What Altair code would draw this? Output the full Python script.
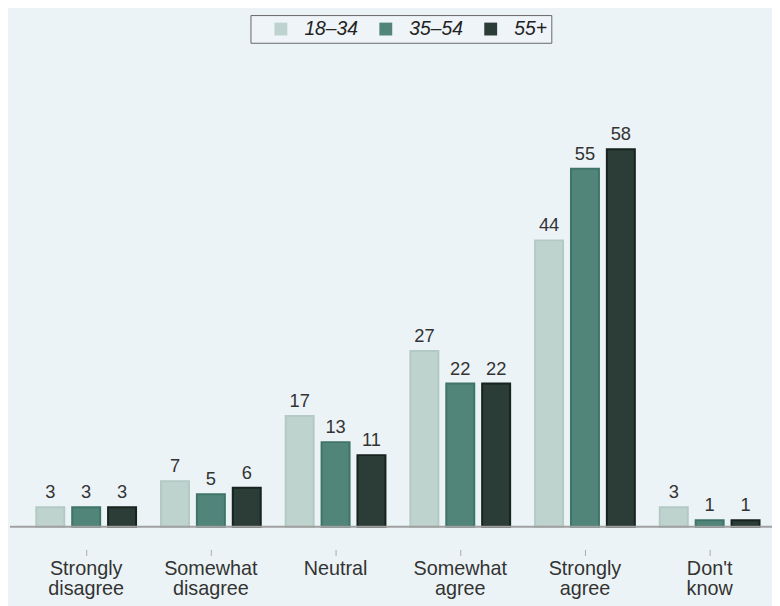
import altair as alt
import pandas as pd

categories = ["Strongly|disagree", "Somewhat|disagree", "Neutral", "Somewhat|agree", "Strongly|agree", "Don't|know"]
groups = ["18–34", "35–54", "55+"]
v_18_34 = [3, 7, 17, 27, 44, 3]
v_35_54 = [3, 5, 13, 22, 55, 1]
v_55p = [3, 6, 11, 22, 58, 1]
fills = ["#bfd3ce", "#52857a", "#2c3c36"]
strokes = ["#b3c9c3", "#3f7468", "#16231e"]

rows = []
for g, vals in zip(groups, [v_18_34, v_35_54, v_55p]):
    for c, v in zip(categories, vals):
        rows.append({"cat": c, "grp": g, "val": v})
df = pd.DataFrame(rows)

FONT = "Liberation Sans"
W, H = 756, 434

x = alt.X("cat:N", sort=categories, title=None,
          scale=alt.Scale(paddingInner=0.2, paddingOuter=0.1),
          axis=alt.Axis(labelExpr="split(datum.label, '|')", labelAngle=0, domain=False,
                        offset=23, tickSize=6, tickColor="#aaaaaa", tickWidth=1,
                        labelFontSize=20, labelColor="#333333", labelFont=FONT,
                        labelLineHeight=21, labelPadding=3, grid=False))
xo = alt.XOffset("grp:N", sort=groups, scale=alt.Scale(paddingInner=0.22, paddingOuter=0))
y = alt.Y("val:Q", scale=alt.Scale(domain=[0, 66]), axis=None)

bars = alt.Chart(df).mark_bar(strokeWidth=2).encode(
    x=x, xOffset=xo, y=y,
    color=alt.Color("grp:N", sort=groups, title=None,
                    scale=alt.Scale(domain=groups, range=fills),
                    legend=alt.Legend(orient="none", direction="horizontal", legendX=229, legendY=-83,
                                      columns=3, gridAlign="all",
                                      symbolType="square", symbolSize=169, symbolStrokeWidth=0,
                                      symbolOffset=17,
                                      labelFontSize=19.5, labelFontStyle="italic", labelFont=FONT,
                                      labelColor="#222222", strokeColor="#666666", fillColor="#eef4f7",
                                      padding=4, columnPadding=1, labelOffset=14)),
    stroke=alt.Stroke("grp:N", sort=groups, scale=alt.Scale(domain=groups, range=strokes), legend=None),
)

labels = alt.Chart(df).mark_text(baseline="alphabetic", dy=-9, fontSize=18.5, font=FONT, color="#333333").encode(
    x=alt.X("cat:N", sort=categories), xOffset=xo, y=y, text=alt.Text("val:Q")
)

base = alt.Chart(pd.DataFrame({"v": [0]})).mark_rule(color="#a0a0a0", strokeWidth=2).encode(
    x=alt.value(-14), x2=alt.value(W), y=alt.Y("v:Q", scale=alt.Scale(domain=[0, 66]))
)

chart = alt.layer(bars, labels, base).properties(
    width=W, height=H,
    background="#ecf3f6",
    padding={"left": 16, "top": 87, "right": 0, "bottom": 80},
    autosize=alt.AutoSizeParams(type="none"),
).configure_view(stroke=None)

chart.save("out.html", embed_options={"renderer": "svg", "actions": False})
